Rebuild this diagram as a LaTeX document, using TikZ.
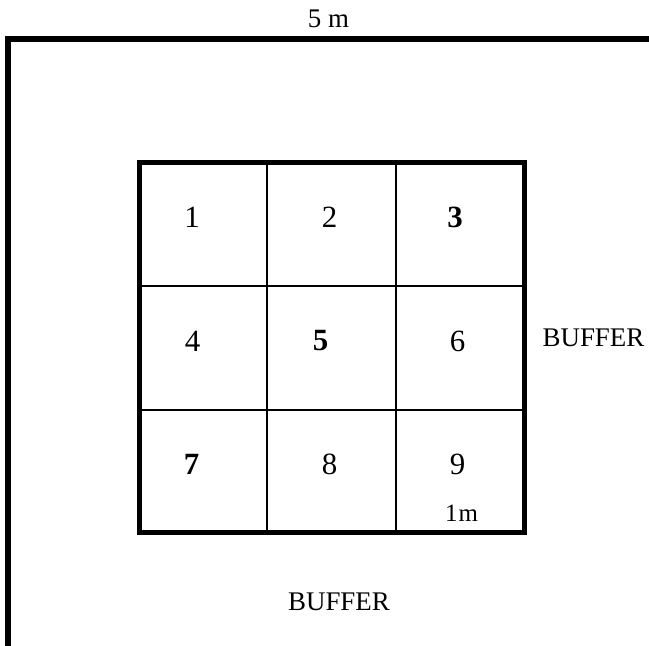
\documentclass[tikz,border=0pt]{standalone}
\usepackage{fontspec}
\setmainfont{Liberation Serif}
\begin{document}
\begin{tikzpicture}[x=1bp,y=-1bp,
  num/.style={inner sep=0pt,font=\fontsize{31}{31}\selectfont},
  bnum/.style={num,font=\fontsize{31}{31}\selectfont\bfseries},
  lbl/.style={inner sep=0pt,font=\fontsize{27}{27}\selectfont},
  small/.style={inner sep=0pt,font=\fontsize{25}{25}\selectfont},
  wall/.style={line width=6bp,line join=miter},
  frame/.style={line width=5bp,line join=miter},
  inner/.style={line width=1.6bp}]
\useasboundingbox (0,0) rectangle (649,646);
% outer L-shaped boundary
\coordinate (tr) at (649,39);
\coordinate (tl) at (8,39);
\coordinate (bl) at (8,646);
\draw[wall] (tr) -- (tl) -- (bl);
% grid
\coordinate (g1) at (139,162.5);
\coordinate (g2) at (524,532.5);
\draw[inner] (267,162.5) -- (267,532.5);
\draw[inner] (396,162.5) -- (396,532.5);
\draw[inner] (139,286) -- (524,286);
\draw[inner] (139,410) -- (524,410);
\draw[frame] (g1) rectangle (g2);
% labels
\node[lbl] (top) at (328.5,19) {5 m};
\node[lbl] (bufR) at (593.5,337.5) {BUFFER};
\node[lbl] (bufB) at (339,601.5) {BUFFER};
\node[small] (onem) at (461.5,513) {1\kern1bp m};
% cell numbers
\node[num]  (c1) at (192,217.5) {1};
\node[num]  (c2) at (329.5,217.5) {2};
\node[bnum] (c3) at (455,217.5) {3};
\node[num]  (c4) at (192.5,341) {4};
\node[bnum] (c5) at (320.5,341) {5};
\node[num]  (c6) at (457.5,341) {6};
\node[bnum] (c7) at (191.5,464) {7};
\node[num]  (c8) at (329.5,464) {8};
\node[num]  (c9) at (457.5,464) {9};
\end{tikzpicture}
\end{document}
